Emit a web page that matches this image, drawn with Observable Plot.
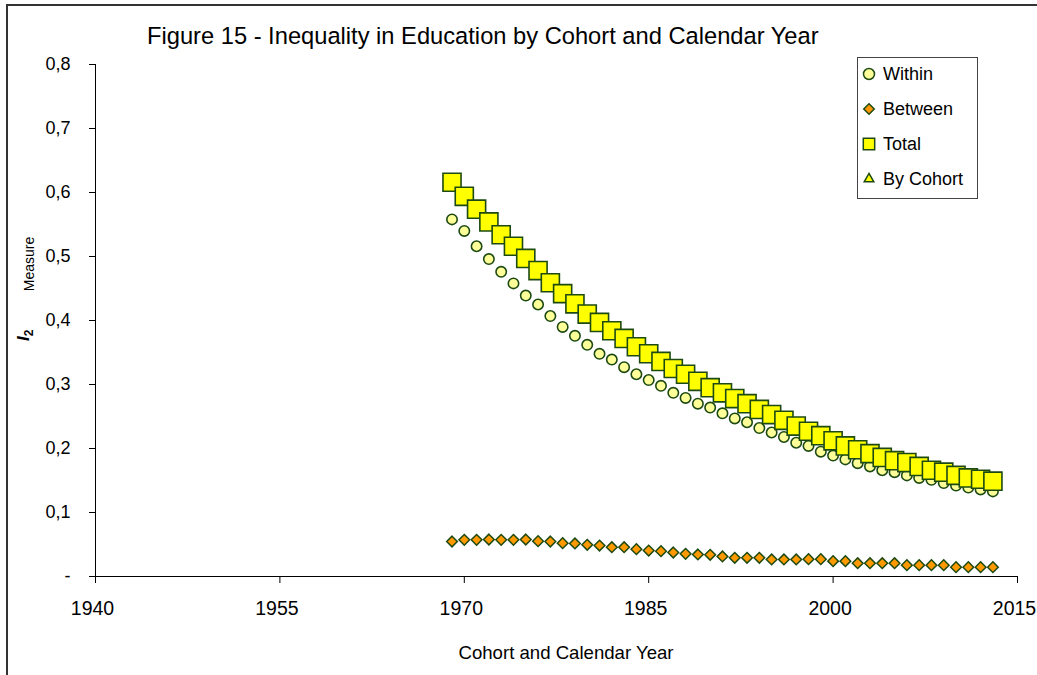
<!DOCTYPE html>
<html>
<head>
<meta charset="utf-8">
<script src="https://cdn.jsdelivr.net/npm/d3@7"></script>
<script src="https://cdn.jsdelivr.net/npm/@observablehq/plot@0.6"></script>
<style>
  html, body { margin: 0; padding: 0; background: #fff; }
  body { font-family: "Liberation Sans", Arial, sans-serif; }
  #wrap { position: relative; width: 1037px; height: 675px; overflow: hidden; background: #fff; }
  #frame { position: absolute; left: 6px; top: 4px; width: 1100px; height: 800px;
           border-left: 2px solid #333; border-top: 2px solid #333; box-sizing: border-box; }
  #chart { position: absolute; left: 0; top: 0; }
  #overlay { position: absolute; left: 0; top: 0; pointer-events: none; }
</style>
</head>
<body>
<div id="wrap">
  <div id="frame"></div>
  <div id="chart"></div>
  <svg id="overlay" width="1037" height="675"></svg>
</div>
<script>
// ---- data ----
const years = [1969,1970,1971,1972,1973,1974,1975,1976,1977,1978,1979,1980,1981,1982,1983,
  1984,1985,1986,1987,1988,1989,1990,1991,1992,1993,1994,1995,1996,1997,1998,1999,2000,
  2001,2002,2003,2004,2005,2006,2007,2008,2009,2010,2011,2012,2013];
const within = [0.558,0.540,0.516,0.496,0.476,0.458,0.439,0.425,0.407,0.390,0.376,0.362,0.348,0.339,0.327,
  0.316,0.307,0.298,0.287,0.279,0.270,0.264,0.255,0.247,0.241,0.232,0.225,0.218,0.209,0.204,0.195,0.189,
  0.183,0.177,0.172,0.166,0.163,0.158,0.154,0.151,0.146,0.142,0.139,0.136,0.133];
const between = [0.0547,0.0573,0.0573,0.0578,0.0573,0.0573,0.0578,0.0552,0.0547,0.0521,0.0516,0.0495,0.0484,0.0458,0.0458,
  0.0427,0.0406,0.0396,0.0375,0.0354,0.0344,0.0339,0.0313,0.0292,0.0292,0.0292,0.0266,0.0266,0.0266,0.0271,0.0271,0.0240,
  0.0240,0.0208,0.0208,0.0208,0.0208,0.0177,0.0177,0.0177,0.0177,0.0146,0.0146,0.0146,0.0146];
const total = [0.616,0.594,0.574,0.554,0.534,0.516,0.497,0.478,0.459,0.442,0.426,0.410,0.397,0.384,0.372,
  0.359,0.348,0.336,0.325,0.316,0.305,0.295,0.287,0.278,0.270,0.261,0.253,0.244,0.235,0.227,0.220,0.212,
  0.204,0.198,0.192,0.186,0.181,0.178,0.172,0.166,0.163,0.158,0.154,0.152,0.149];
const byCohort = []; // no visible points
const xTicks = [1940, 1955, 1970, 1985, 2000, 2015];
const yTicks = [0, 0.1, 0.2, 0.3, 0.4, 0.5, 0.6, 0.7, 0.8];
const seriesNames = ["Within", "Between", "Total", "By Cohort"];
const titleText = "Figure 15 - Inequality in Education by Cohort and Calendar Year";
const xLabel = "Cohort and Calendar Year";

// ---- styles ----
const STROKE = "#1d4a12";
const FILL_WITHIN = "#ffff99", FILL_BETWEEN = "#ff9900", FILL_TOTAL = "#ffff00";
const FONT = "Liberation Sans, Arial, sans-serif";

const rows = years.map((year, i) => ({year, within: within[i], between: between[i], total: total[i]}));

const chart = Plot.plot({
  width: 1037, height: 675,
  marginLeft: 95, marginRight: 20, marginTop: 64, marginBottom: 99,
  style: {fontFamily: FONT, background: "transparent", overflow: "visible", color: "#000"},
  x: {domain: [1940, 2015]},
  y: {domain: [0, 0.8]},
  marks: [
    Plot.axisY({ticks: yTicks, tickSize: 6, tickPadding: 19, fontSize: 18, label: null,
      tickFormat: d => d === 0 ? "-" : d.toFixed(1).replace(".", ",")}),
    // tick marks only
    Plot.axisX({ticks: xTicks, tickSize: 7, tickFormat: () => "", label: null}),
    // tick labels only, nudged slightly left as in the reference
    Plot.axisX({ticks: xTicks, tickSize: 0, tickPadding: 25, fontSize: 19.5, dx: -3, label: null,
      tickFormat: d => String(d)}),
    Plot.ruleX([1940], {stroke: "#000"}),
    Plot.ruleY([0], {stroke: "#000"}),
    Plot.dot(rows, {x: "year", y: "within", symbol: "circle", r: 5.2,
      fill: FILL_WITHIN, stroke: STROKE, strokeWidth: 1.6}),
    Plot.dot(rows, {x: "year", y: "between", symbol: "diamond2", r: 4.8,
      fill: FILL_BETWEEN, stroke: STROKE, strokeWidth: 1.5}),
    Plot.dot(rows, {x: "year", y: "total", symbol: "square", r: 10.2,
      fill: FILL_TOTAL, stroke: STROKE, strokeWidth: 1.6})
  ]
});
document.getElementById("chart").appendChild(chart);

// ---- overlay texts & legend ----
const ov = d3.select("#overlay").style("font-family", FONT);
ov.append("text").attr("x", 147).attr("y", 44).attr("font-size", 23.7).attr("fill", "#000").text(titleText);
ov.append("text").attr("x", 566).attr("y", 659).attr("text-anchor", "middle").attr("font-size", 18.6)
  .attr("fill", "#000").text(xLabel);

// y label: I2  Measure (rotated)
const yl = ov.append("text").attr("transform", "translate(29,341) rotate(-90)").attr("fill", "#000");
yl.append("tspan").attr("font-weight", "bold").attr("font-style", "italic").attr("font-size", 17).text("I");
yl.append("tspan").attr("font-weight", "bold").attr("font-size", 12).attr("dy", 4).text("2");
ov.append("text").attr("transform", "translate(34,264) rotate(-90)").attr("text-anchor", "middle")
  .attr("font-size", 14).attr("fill", "#000").text("Measure");

// legend
const lg = ov.append("g");
lg.append("rect").attr("x", 857.5).attr("y", 57.5).attr("width", 120).attr("height", 141)
  .attr("fill", "#fff").attr("stroke", "#444").attr("stroke-width", 1);
const ly = [74, 109, 144, 179];
const sym = [d3.symbolCircle, d3.symbolDiamond2, d3.symbolSquare, d3.symbolTriangle];
const sz = [95, 70, 130, 40];
const fills = [FILL_WITHIN, FILL_BETWEEN, FILL_TOTAL, FILL_TOTAL];
seriesNames.forEach((name, i) => {
  lg.append("path").attr("transform", `translate(869,${ly[i]})`)
    .attr("d", d3.symbol(sym[i], sz[i])()).attr("fill", fills[i]).attr("stroke", STROKE).attr("stroke-width", 1.5);
  lg.append("text").attr("x", 883).attr("y", ly[i]).attr("dy", "0.36em").attr("font-size", 18)
    .attr("fill", "#000").text(name);
});
</script>
</body>
</html>
